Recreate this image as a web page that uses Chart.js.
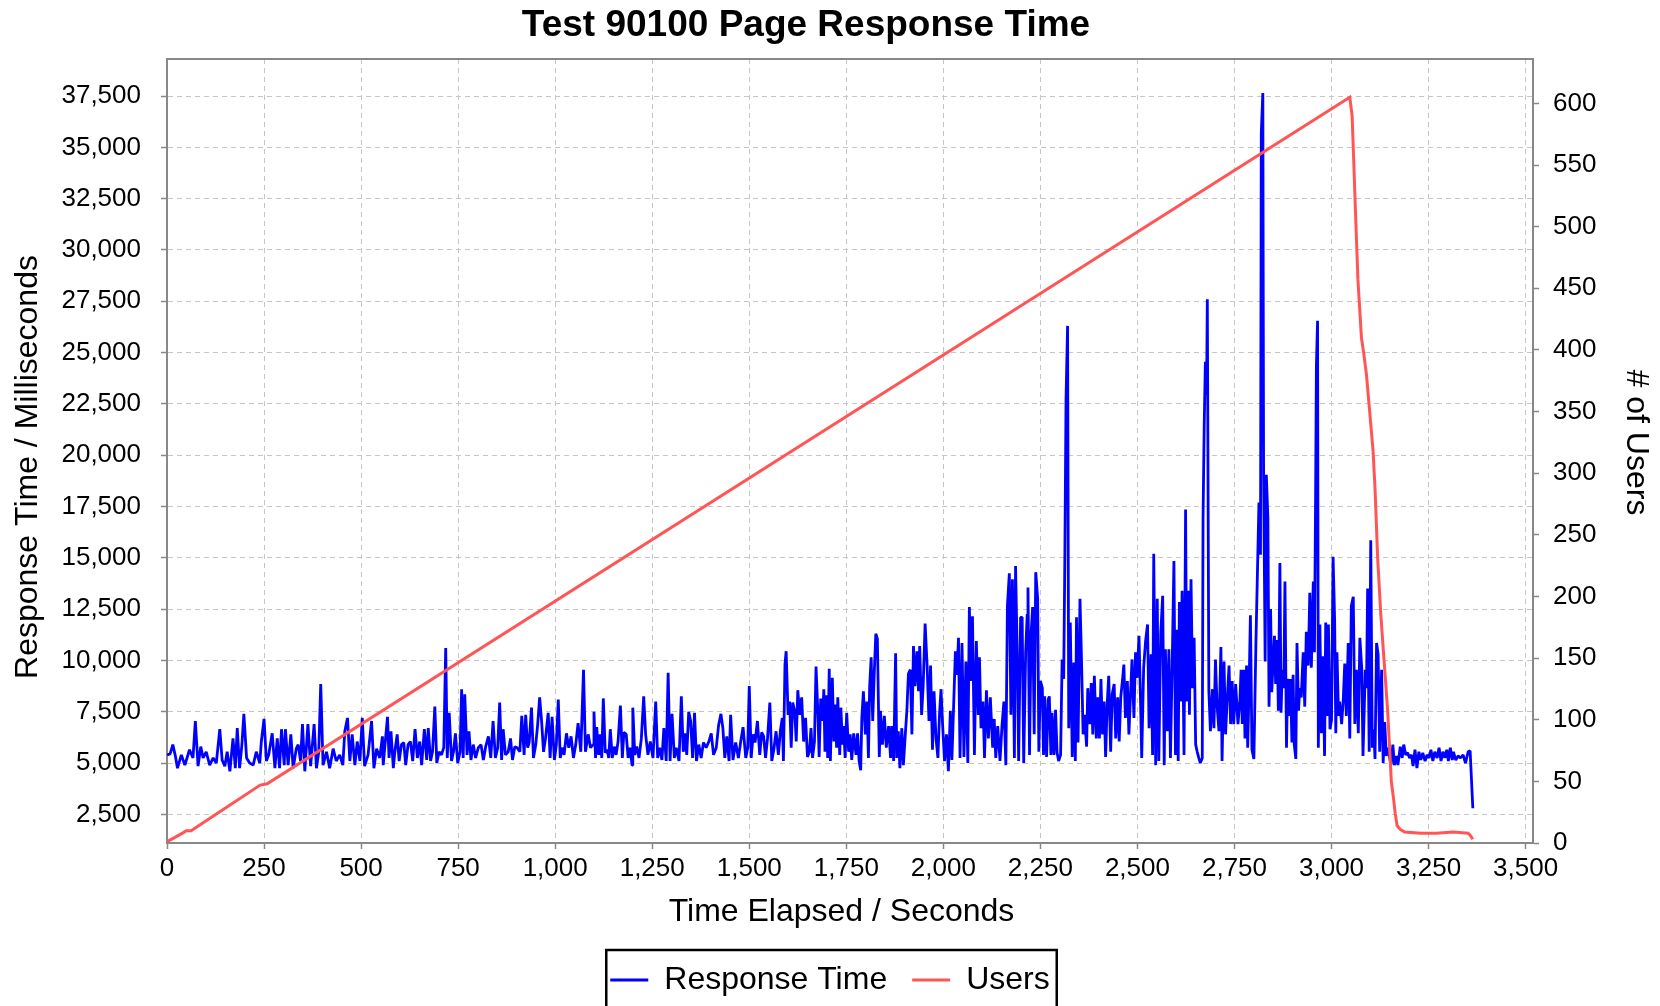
<!DOCTYPE html>
<html>
<head>
<meta charset="utf-8">
<title>Test 90100 Page Response Time</title>
<script src="https://cdn.jsdelivr.net/npm/chart.js@4.4.1/dist/chart.umd.min.js"></script>
<style>
  html, body { margin: 0; padding: 0; background: #fff; }
  #wrap { width: 1660px; height: 1006px; }
</style>
</head>
<body>
<div id="wrap"><canvas id="chart" width="1660" height="1006"></canvas></div>
<script>
// Response time samples [seconds, ms] in stretches
const rtSeg1 = [
  [0,5400],[8,5450],[15,5900],[22,5300],[27,4750],[37,5400],[46,4900],[58,5650],[67,5250],[73,7050],
  [80,4850],[87,5800],[93,5250],[101,5550],[110,4900],[119,5250],[127,5000],[136,6650],[142,5150],[149,4850],
  [155,5550],[162,4600],[170,6200],[176,4750],[181,6700],[187,4750],[193,5900],[198,7400],[205,5250],[213,5000],
  [222,4900],[230,5550],[239,5000],[243,6050],[250,7150],[256,5100],[262,5400],[271,6450],[278,4750],[284,6200],
  [290,4750],[295,6650],[302,4900],[305,6650],[312,4900],[319,6400],[325,4750],[333,5700],[338,5900],[344,5100],
  [349,6900],[355,4600],[363,6900],[370,4850],[379,6900],[385,4750],[391,5550],[396,8850],[402,4900],[411,5550],
  [419,4750],[428,5700],[436,5100],[445,5400],[453,4900],[458,6550],[465,7200],[471,5100],[477,6400],[484,4900],
  [490,6050],[497,5100],[503,7200],[509,4850],[518,5400],[527,7050],[533,4750],[540,5700],[548,5250],[555,6300]
];
const rtSeg2 = [
  [557,4900],[561,5750],[568,7250],[572,5250],[577,6550],[583,4750],[587,5550],[593,6400],[598,5100],[604,5900],
  [610,6000],[615,4900],[621,5900],[627,6050],[633,5100],[639,6650],[645,5250],[651,6050],[656,4900],[663,6650],
  [669,5150],[673,6700],[679,5100],[684,5550],[690,7750],[695,5000],[701,5550],[707,5400],[713,5750],[718,10600],
  [722,5250],[727,7450],[733,5100],[738,5550],[743,6450],[749,5000],[755,5550],[759,8600],[763,5250],[767,8350],
  [773,5400],[778,6550],[783,5150],[789,5900],[795,5250],[802,5750],[809,5900],[815,5150],[821,5800],[828,6300],
  [834,5250],[840,7050],[846,5250],[852,5750],[857,7950],[862,5150],[866,6650],[872,5400],[879,5550],[885,6200],
  [890,5150],[896,5800],[902,5750],[909,5550],[914,7300],[920,5400],[924,7350],[929,5750],[933,6000],[939,7700],
  [944,5250],[950,5900],[955,6900],[960,8200],[965,7050],[970,5550],[975,6200],[982,7450],[987,5250],[992,7250],
  [998,5150],[1003,5900],[1008,8100],[1013,5250],[1018,5750],[1023,5400],[1029,6450],[1035,5750],[1041,6300],[1047,5250],
  [1053,5900],[1059,6950],[1066,5550],[1073,9550],[1078,5550],[1085,6400],[1091,5750],[1098,5900]
];
const rtSeg3 = [
  [1100,7500],[1104,5250],[1107,6750],[1112,5400],[1116,6400],[1120,5250],[1124,8150],[1129,5500],[1134,5650],[1138,5250],
  [1142,6650],[1147,5250],[1152,5800],[1157,5400],[1162,6050],[1168,7800],[1173,5250],[1177,6500],[1183,6400],[1188,5250],
  [1193,5750],[1198,4900],[1200,7700],[1205,5400],[1210,5800],[1216,5250],[1222,6200],[1228,8250],[1233,6400],[1239,5400],
  [1245,6050],[1252,5250],[1259,8000],[1264,5250],[1269,5750],[1275,5150],[1280,6700],[1286,5100],[1291,9400],[1296,5100],
  [1301,7400],[1307,5250],[1312,5750],[1319,5100],[1325,8250],[1330,5550],[1334,6450],[1339,5400],[1344,7500],[1349,7050],
  [1354,5250],[1359,7450],[1364,5100],[1370,5900],[1376,5250],[1382,6000],[1389,5750],[1396,6050],[1402,6450],[1408,5400],
  [1415,5750],[1421,6850],[1427,7400],[1432,6700],[1437,5250],[1442,6300],[1448,5100],[1452,7350],[1458,5150],[1465,6000],
  [1472,5250],[1478,6050],[1484,6750],[1491,5250],[1496,5750],[1500,8750],[1505,5250],[1510,6400],[1515,6000],[1521,7050],
  [1527,5400],[1532,6500],[1537,6300],[1542,5250],[1547,6200],[1553,7950],[1558,5100],[1564,5750],[1569,6550],[1575,5400],
  [1580,6550],[1585,7200],[1588,5100],[1592,9800],[1595,10450],[1600,7350],[1604,8000],[1608,5750],[1612,7950],[1617,7550],
  [1621,6050],[1625,8550],[1630,7350],[1635,8200],[1640,6050],[1645,7200]
];
const rtSeg4 = [
  [1650,5300],[1655,5550],[1659,6700],[1663,5250],[1668,6050],[1672,9700],[1677,7350],[1680,5300],[1684,8150],[1689,7050],
  [1692,8600],[1695,5550],[1699,8300],[1702,5250],[1706,9600],[1709,5100],[1714,9150],[1718,6050],[1721,7850],[1725,5750],
  [1728,8200],[1733,5400],[1736,7700],[1740,5900],[1743,6800],[1747,5250],[1751,7450],[1756,5550],[1760,6400],[1764,5150],
  [1769,6450],[1775,5400],[1779,6450],[1783,5100],[1787,4650],[1790,7200],[1794,8500],[1799,6400],[1803,8000],[1807,5250],
  [1810,8650],[1814,10150],[1818,7050],[1822,9400],[1826,11300],[1830,11050],[1835,5300],[1838,7550],[1843,5900],[1848,7300],
  [1853,5750],[1859,6800],[1864,5250],[1867,6800],[1872,5100],[1877,10350],[1880,5250],[1884,6550],[1888,4750],[1893,6700],
  [1897,4900],[1902,6400],[1906,7550],[1910,9350],[1915,9550],[1919,6400],[1923,10700],[1927,8750],[1932,10450],[1936,8500],
  [1939,10700],[1944,7350],[1948,8750],[1953,11800],[1958,9800],[1963,7050],[1967,9750],[1972,5650],[1976,8500],[1981,6200],
  [1986,5250],[1990,7350],[1994,8600],[1998,6900],[2003,5100],[2008,6400],[2013,4600],[2018,7550],[2022,5150],[2027,8100],
  [2031,10450],[2035,9300],[2039,11100],[2043,5250],[2048,10850],[2053,5300],[2058,9950],[2063,5000],[2067,12600],[2071,9000],
  [2075,12150],[2080,5400],[2085,10950],[2090,7350],[2093,10150],[2097,6700],[2102,8000],[2106,5250],[2111,8550],[2116,6200],
  [2121,8200],[2127,5750],[2131,7150],[2135,5250],[2140,6800],[2146,5100],[2151,6800],[2156,8000],[2161,4900],[2165,12650],
  [2170,14250],[2174,7350],[2178,13950],[2183,5250],[2186,14600],[2190,10600],[2194,5100],[2199,12100]
];
const rtSeg5 = [
  [2203,12100],[2207,5000],[2212,10400],[2216,12250],[2218,13550],[2222,5400],[2226,11300],[2230,12600],[2234,6400],[2238,14300],
  [2243,13000],[2246,5550],[2250,9000],[2255,8650],[2258,5400],[2261,8250],[2266,5300],[2270,8100],[2273,8250],[2277,5400],
  [2280,7450],[2285,5400],[2289,7600],[2293,5500],[2297,5100],[2302,5400],[2306,10050],[2310,9100],[2313,15050],[2316,22700],
  [2320,26300],[2323,6700],[2327,11850],[2332,5300],[2336,9900],[2340,5100],[2343,12100],[2347,6000],[2352,13000],[2356,9950],
  [2360,6400],[2364,7350],[2369,5800],[2372,8650],[2377,6900],[2381,8900],[2385,6400],[2389,9250],[2394,6200],[2398,8200],
  [2402,6200],[2406,9100],[2410,6400],[2414,8000],[2418,5300],[2422,7850],[2426,9250],[2431,5550],[2435,8350],[2440,8850],
  [2444,6200],[2449,8200],[2453,6050],[2457,8200],[2462,9150],[2465,9800],[2469,7200],[2474,9000],[2478,6400],[2482,8250],
  [2486,10050],[2491,7200],[2495,10400],[2499,9150],[2504,11200],[2508,8000],[2511,5250],[2516,9650],[2521,10950],[2526,11750],
  [2530,6700],[2535,10300],[2539,5400],[2542,15200],[2547,4900],[2551,13000],[2555,5100],[2560,11300],[2565,13150],[2569,4900],
  [2572,10550],[2577,6550],[2581,10550],[2585,5250],[2590,10300],[2594,14850],[2598,5400],[2602,11500],[2605,5100],[2608,12850],
  [2612,8000],[2615,13400],[2620,5400],[2624,17350],[2627,8000],[2631,13400],[2634,7350],[2638,13950],[2642,8650],[2646,11100],
  [2650,5900],[2654,5550],[2658,5250],[2662,5000],[2667,5250],[2669,16900],[2672,21450],[2675,24550],[2678,22950],[2680,27600],
  [2684,8500],[2688,6550],[2693,8600],[2697,6700],[2701,10050],[2705,7850],[2710,6550],[2715,10650],[2718,5100],[2723,9950],
  [2727,6400],[2731,8000],[2736,9750],[2740,6900],[2744,9000],[2748,6900],[2753,8850]
];
const rtSeg6 = [
  [2759,6900],[2764,8100],[2767,9550],[2770,6900],[2774,9550],[2777,6200],[2781,9750],[2784,5750],[2788,9100],[2791,12200],
  [2795,5650],[2800,5200],[2805,10650],[2810,15050],[2813,17700],[2817,15150],[2819,35650],[2823,37650],[2825,19050],[2829,9950],
  [2832,19050],[2836,16950],[2839,7750],[2843,12500],[2846,8450],[2849,9750],[2853,11200],[2856,8850],[2860,11000],[2863,7550],
  [2867,14750],[2870,7450],[2873,9550],[2877,8650],[2880,13850],[2884,5750],[2887,9100],[2891,7300],[2894,9100],[2898,6000],
  [2901,9300],[2904,5900],[2908,5200],[2911,10850],[2915,7550],[2918,8650],[2922,8200],[2927,10400],[2931,7750],[2935,11400],
  [2940,9750],[2944,13300],[2948,9650],[2953,13850],[2956,10400],[2959,18150],[2961,24350],[2964,26550],[2966,5750],[2970,11750],
  [2974,6450],[2978,10200],[2982,5350],[2985,11850],[2989,7300],[2992,11750],[2996,6650],[3000,7100],[3004,15050],[3008,11950],
  [3011,6450],[3014,10400],[3018,7300],[3021,8000],[3026,6900],[3030,8000],[3034,9850],[3038,7300],[3043,10850],[3047,6200],
  [3051,12650],[3056,13100],[3060,6900],[3064,9550],[3069,6450],[3073,11100],[3078,9550],[3081,5350],[3087,9550],[3090,8650],
  [3093,13500],[3097,5550],[3101,15850],[3105,5750],[3109,6650],[3112,5200],[3116,10850],[3120,10300],[3124,5550],[3129,9550],
  [3133,5000],[3137,7000],[3141,5350],[3146,5750]
];
const rtSeg7 = [
  [3150,5250],[3153,4900],[3158,5900],[3162,4900],[3167,5350],[3171,4900],[3177,5800],[3182,5250],[3186,5900],[3191,5400],
  [3196,5500],[3201,5250],[3206,5400],[3210,4850],[3215,5650],[3220,4750],[3225,5550],[3230,5150],[3235,5500],[3241,5100],
  [3246,5400],[3251,5250],[3256,5650],[3261,5100],[3266,5550],[3272,5250],[3277,5750],[3282,5100],[3287,5550],[3292,5250],
  [3297,5650],[3301,5100],[3306,5750],[3311,5150],[3314,5550],[3320,5150],[3326,5350],[3332,5250],[3339,5400],[3345,5000],
  [3352,5550],[3357,5600],[3364,2800]
];

// Active users [seconds, users]
const usersRamp = [[0,1],[40,8],[50,10],[62,10],[240,47],[258,48],[3047,605]];
const usersRampDown = [
  [3053,590],[3058,546],[3062,509],[3068,457],[3077,410],[3083,397],[3090,380],[3101,340],[3107,318],[3112,288],
  [3119,230],[3127,185],[3136,145],[3144,110],[3150,75],[3154,50],[3159,38],[3164,24],[3169,14],[3177,11],
  [3188,9],[3230,8],[3270,8],[3313,9],[3352,8],[3358,6],[3364,3]
];

// Axis ticks
const xTickValues = [0,250,500,750,1000,1250,1500,1750,2000,2250,2500,2750,3000,3250,3500];
const rtTickValues = [2500,5000,7500,10000,12500,15000,17500,20000,22500,25000,27500,30000,32500,35000,37500];
const userTickValues = [0,50,100,150,200,250,300,350,400,450,500,550,600];

const toPoints = rows => rows.map(([x, y]) => ({ x, y }));
const responseData = toPoints([...rtSeg1, ...rtSeg2, ...rtSeg3, ...rtSeg4, ...rtSeg5, ...rtSeg6, ...rtSeg7]);
const usersData = toPoints([...usersRamp, ...usersRampDown]);

const FONT = "'Liberation Sans', Arial, Helvetica, sans-serif";
const GRID = '#c6c6c6';
const AXIS = '#888888';
Chart.defaults.font.family = FONT;
Chart.defaults.color = '#000';

const fmt = v => Number(v).toLocaleString('en-US');
const setTicks = values => scale => { scale.ticks = values.map(v => ({ value: v })); };

// chart title, axis titles, plot top border and the box round the legend
const framePlugin = {
  id: 'frame',
  afterDraw(chart) {
    const { ctx, chartArea: a, legend } = chart;
    ctx.save();
    ctx.strokeStyle = AXIS;
    ctx.lineWidth = 2;
    ctx.beginPath();
    ctx.moveTo(a.left, a.top);
    ctx.lineTo(a.right, a.top);
    ctx.stroke();

    ctx.fillStyle = '#000';
    ctx.textAlign = 'center';
    ctx.textBaseline = 'middle';
    ctx.font = 'bold 37px ' + FONT;
    ctx.fillText('Test 90100 Page Response Time', 806, 26);

    ctx.font = '32px ' + FONT;
    ctx.fillText('Time Elapsed / Seconds', 841.5, 912);

    ctx.save();
    ctx.translate(28.2, 467);
    ctx.rotate(-Math.PI / 2);
    ctx.fillText('Response Time / Milliseconds', 0, 0);
    ctx.restore();

    ctx.save();
    ctx.translate(1635.8, 442.5);
    ctx.rotate(Math.PI / 2);
    ctx.fillText('# of Users', 0, 0);
    ctx.restore();

    const boxes = legend.legendHitBoxes || [];
    if (boxes.length) {
      const left = Math.min(...boxes.map(b => b.left)) - 4;
      const right = Math.max(...boxes.map(b => b.left + b.width)) + 7;
      const top = boxes[0].top - 14;
      ctx.strokeStyle = '#000';
      ctx.lineWidth = 2.5;
      ctx.strokeRect(left, top, right - left, 120);
    }
    ctx.restore();
  }
};

const tickGrid = (extra) => Object.assign({
  color: GRID,
  lineWidth: 1,
  tickLength: 6,
  tickColor: AXIS,
  tickWidth: 1.5,
  tickBorderDash: []
}, extra || {});

new Chart(document.getElementById('chart'), {
  type: 'line',
  data: {
    datasets: [
      {
        label: 'Response Time',
        data: responseData,
        yAxisID: 'y',
        borderColor: '#0000ff',
        backgroundColor: '#0000ff',
        borderWidth: 2.8,
        borderJoinStyle: 'bevel',
        pointRadius: 0,
        tension: 0,
        order: 2
      },
      {
        label: 'Users',
        data: usersData,
        yAxisID: 'y1',
        borderColor: '#ff5555',
        backgroundColor: '#ff5555',
        borderWidth: 3,
        pointRadius: 0,
        tension: 0,
        order: 1
      }
    ]
  },
  options: {
    responsive: false,
    animation: false,
    devicePixelRatio: 1,
    layout: { padding: { top: 59, left: 0, right: 0, bottom: 0 } },
    plugins: {
      title: { display: false },
      legend: {
        position: 'bottom',
        labels: {
          usePointStyle: true,
          pointStyle: 'line',
          pointStyleWidth: 38,
          color: '#000',
          font: { size: 32 },
          padding: 25,
          sort: (a, b) => a.datasetIndex - b.datasetIndex
        }
      },
      tooltip: { enabled: false }
    },
    scales: {
      x: {
        type: 'linear',
        min: 0,
        max: 3519,
        afterBuildTicks: setTicks(xTickValues),
        afterFit: s => { s.height = 96; },
        ticks: { color: '#000', font: { size: 26 }, padding: 4, maxRotation: 0, autoSkip: false, callback: fmt },
        grid: tickGrid(),
        border: { display: true, color: AXIS, width: 2, dash: [5, 4] },
        title: { display: false }
      },
      y: {
        type: 'linear',
        position: 'left',
        min: 1106,
        max: 39304,
        afterBuildTicks: setTicks(rtTickValues),
        afterFit: s => { s.width = 167; },
        ticks: { color: '#000', font: { size: 26 }, padding: 20, callback: fmt },
        grid: tickGrid(),
        border: { display: true, color: AXIS, width: 2, dash: [5, 4] },
        title: { display: false }
      },
      y1: {
        type: 'linear',
        position: 'right',
        min: 0,
        max: 636,
        afterBuildTicks: setTicks(userTickValues),
        afterFit: s => { s.width = 127; },
        ticks: { color: '#000', font: { size: 26 }, padding: 14, callback: fmt },
        grid: tickGrid({ drawOnChartArea: false }),
        border: { display: true, color: AXIS, width: 2 },
        title: { display: false }
      }
    }
  },
  plugins: [framePlugin]
});
</script>
</body>
</html>
